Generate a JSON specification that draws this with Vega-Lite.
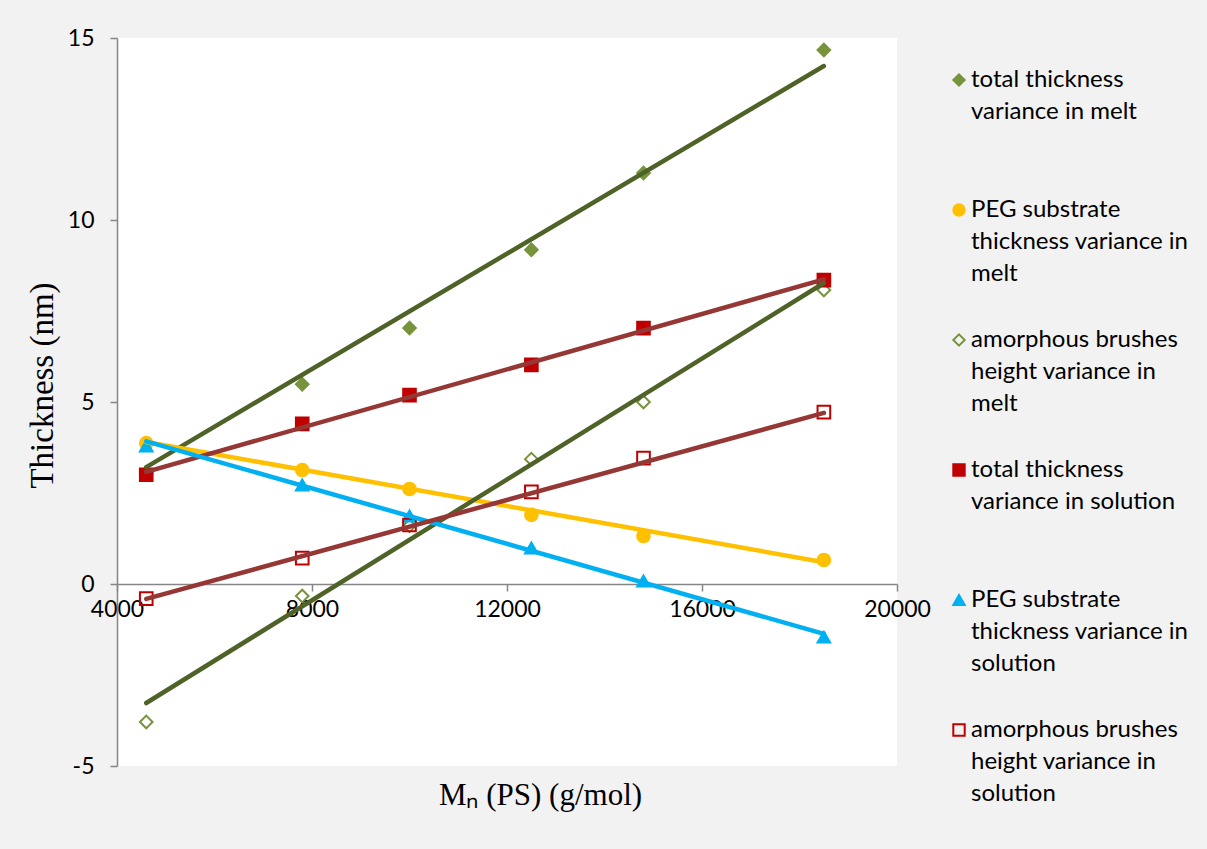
{
  "$schema": "https://vega.github.io/schema/vega-lite/v6.json",
  "width": 780,
  "height": 728,
  "autosize": "none",
  "padding": {"left": 117, "top": 38, "right": 310, "bottom": 83},
  "background": "#F2F2F2",
  "view": {"fill": "white", "stroke": null},
  "config": {
    "style": {"guide-label": {"lineHeight": 32, "dy": -12}},
    "axis": {"grid": false, "domainColor": "#868686", "domainWidth": 1.5, "tickColor": "#868686", "tickWidth": 1.5, "tickSize": 7, "labelFont": "Lato", "labelFontSize": 23, "labelColor": "#000000", "labelFlush": false, "titleFont": "Liberation Serif", "titleFontSize": 31, "titleFontWeight": "normal", "titleColor": "#000000"},
    "legend": {"orient": "none", "legendX": 830, "legendY": 30, "direction": "vertical", "columns": 1, "rowPadding": 42, "symbolSize": 130, "symbolStrokeWidth": 2, "labelFont": "Lato", "labelFontSize": 24, "labelColor": "#000000", "labelLimit": 300, "labelOffset": 0, "labelBaseline": "top"}
  },
  "datasets": {
    "points": [
      {"series": "total thickness variance in melt", "mn": 4600, "thickness": 3.05},
      {"series": "total thickness variance in melt", "mn": 7800, "thickness": 5.49},
      {"series": "total thickness variance in melt", "mn": 10000, "thickness": 7.03},
      {"series": "total thickness variance in melt", "mn": 12500, "thickness": 9.18},
      {"series": "total thickness variance in melt", "mn": 14800, "thickness": 11.29},
      {"series": "total thickness variance in melt", "mn": 18500, "thickness": 14.67},
      {"series": "PEG substrate thickness variance in melt", "mn": 4600, "thickness": 3.87},
      {"series": "PEG substrate thickness variance in melt", "mn": 7800, "thickness": 3.13},
      {"series": "PEG substrate thickness variance in melt", "mn": 10000, "thickness": 2.61},
      {"series": "PEG substrate thickness variance in melt", "mn": 12500, "thickness": 1.9},
      {"series": "PEG substrate thickness variance in melt", "mn": 14800, "thickness": 1.32},
      {"series": "PEG substrate thickness variance in melt", "mn": 18500, "thickness": 0.66},
      {"series": "amorphous brushes height variance in melt", "mn": 4600, "thickness": -3.79},
      {"series": "amorphous brushes height variance in melt", "mn": 7800, "thickness": -0.33},
      {"series": "amorphous brushes height variance in melt", "mn": 10000, "thickness": 1.6},
      {"series": "amorphous brushes height variance in melt", "mn": 12500, "thickness": 3.43},
      {"series": "amorphous brushes height variance in melt", "mn": 14800, "thickness": 5.0},
      {"series": "amorphous brushes height variance in melt", "mn": 18500, "thickness": 8.08},
      {"series": "total thickness variance in solution", "mn": 4600, "thickness": 3.0},
      {"series": "total thickness variance in solution", "mn": 7800, "thickness": 4.4},
      {"series": "total thickness variance in solution", "mn": 10000, "thickness": 5.19},
      {"series": "total thickness variance in solution", "mn": 12500, "thickness": 6.02},
      {"series": "total thickness variance in solution", "mn": 14800, "thickness": 7.03},
      {"series": "total thickness variance in solution", "mn": 18500, "thickness": 8.35},
      {"series": "PEG substrate thickness variance in solution", "mn": 4600, "thickness": 3.79},
      {"series": "PEG substrate thickness variance in solution", "mn": 7800, "thickness": 2.72},
      {"series": "PEG substrate thickness variance in solution", "mn": 10000, "thickness": 1.87},
      {"series": "PEG substrate thickness variance in solution", "mn": 12500, "thickness": 0.99},
      {"series": "PEG substrate thickness variance in solution", "mn": 14800, "thickness": 0.08},
      {"series": "PEG substrate thickness variance in solution", "mn": 18500, "thickness": -1.46},
      {"series": "amorphous brushes height variance in solution", "mn": 4600, "thickness": -0.4},
      {"series": "amorphous brushes height variance in solution", "mn": 7800, "thickness": 0.71},
      {"series": "amorphous brushes height variance in solution", "mn": 10000, "thickness": 1.62},
      {"series": "amorphous brushes height variance in solution", "mn": 12500, "thickness": 2.53},
      {"series": "amorphous brushes height variance in solution", "mn": 14800, "thickness": 3.46},
      {"series": "amorphous brushes height variance in solution", "mn": 18500, "thickness": 4.72}
    ],
    "trends": [
      {"trend": "total melt", "mn": 4600, "thickness": 3.21},
      {"trend": "total melt", "mn": 18500, "thickness": 14.23},
      {"trend": "PEG melt", "mn": 4600, "thickness": 3.9},
      {"trend": "PEG melt", "mn": 18500, "thickness": 0.6},
      {"trend": "amorphous melt", "mn": 4600, "thickness": -3.27},
      {"trend": "amorphous melt", "mn": 18500, "thickness": 8.27},
      {"trend": "total solution", "mn": 4600, "thickness": 3.08},
      {"trend": "total solution", "mn": 18500, "thickness": 8.37},
      {"trend": "PEG solution", "mn": 4600, "thickness": 3.92},
      {"trend": "PEG solution", "mn": 18500, "thickness": -1.37},
      {"trend": "amorphous solution", "mn": 4600, "thickness": -0.41},
      {"trend": "amorphous solution", "mn": 18500, "thickness": 4.7}
    ]
  },
  "encoding": {
    "x": {"field": "mn", "type": "quantitative", "scale": {"domain": [4000, 20000], "nice": false, "zero": false},
      "axis": {"values": [4000, 8000, 12000, 16000, 20000], "labelExpr": "'' + datum.value", "offset": -182, "labelPadding": 19, "title": "Mₙ (PS) (g/mol)", "titleX": 423, "titleY": 211, "titleBaseline": "middle", "titleAlign": "center", "titleAnchor": null}},
    "y": {"field": "thickness", "type": "quantitative", "scale": {"domain": [-5, 15], "nice": false, "zero": false},
      "axis": {"values": [-5, 0, 5, 10, 15], "labelExpr": "'' + datum.value", "labelPadding": 16, "labelOffset": 12, "title": "Thickness (nm)", "titleFontSize": 33, "titleX": -75, "titleY": 347, "titleBaseline": "middle", "titleAlign": "center", "titleAngle": -90, "titleAnchor": null}}
  },
  "layer": [
    {
      "data": {"name": "points"},
      "mark": {"type": "point", "size": 160, "strokeWidth": 2, "opacity": 1},
      "encoding": {
        "color": {"field": "series", "type": "nominal",
          "scale": {"domain": ["total thickness variance in melt", "PEG substrate thickness variance in melt", "amorphous brushes height variance in melt", "total thickness variance in solution", "PEG substrate thickness variance in solution", "amorphous brushes height variance in solution"],
            "range": ["#77933C", "#FFC000", "#77933C", "#C00000", "#00B0F0", "#C00000"]},
          "legend": {"title": null,
            "labelExpr": "datum.value == 'total thickness variance in melt' ? ['total thickness', 'variance in melt', ' '] : datum.value == 'PEG substrate thickness variance in melt' ? ['PEG substrate', 'thickness variance in', 'melt'] : datum.value == 'amorphous brushes height variance in melt' ? ['amorphous brushes', 'height variance in', 'melt'] : datum.value == 'total thickness variance in solution' ? ['total thickness', 'variance in solution', ' '] : datum.value == 'PEG substrate thickness variance in solution' ? ['PEG substrate', 'thickness variance in', 'solution'] : ['amorphous brushes', 'height variance in', 'solution']"}},
        "fill": {"field": "series", "type": "nominal",
          "scale": {"domain": ["total thickness variance in melt", "PEG substrate thickness variance in melt", "amorphous brushes height variance in melt", "total thickness variance in solution", "PEG substrate thickness variance in solution", "amorphous brushes height variance in solution"],
            "range": ["#77933C", "#FFC000", "transparent", "#C00000", "#00B0F0", "transparent"]},
          "legend": {"title": null}},
        "shape": {"field": "series", "type": "nominal",
          "scale": {"domain": ["total thickness variance in melt", "PEG substrate thickness variance in melt", "amorphous brushes height variance in melt", "total thickness variance in solution", "PEG substrate thickness variance in solution", "amorphous brushes height variance in solution"],
            "range": ["diamond", "circle", "diamond", "square", "triangle-up", "square"]},
          "legend": {"title": null}}
      }
    },
    {
      "data": {"name": "trends"},
      "mark": {"type": "line", "strokeWidth": 4.5, "strokeCap": "round"},
      "encoding": {
        "stroke": {"field": "trend", "type": "nominal", "legend": null,
          "scale": {"domain": ["total melt", "PEG melt", "amorphous melt", "total solution", "PEG solution", "amorphous solution"],
            "range": ["#4F6228", "#FFC000", "#4F6228", "#953735", "#00B0F0", "#953735"]}}
      }
    }
  ]
}
